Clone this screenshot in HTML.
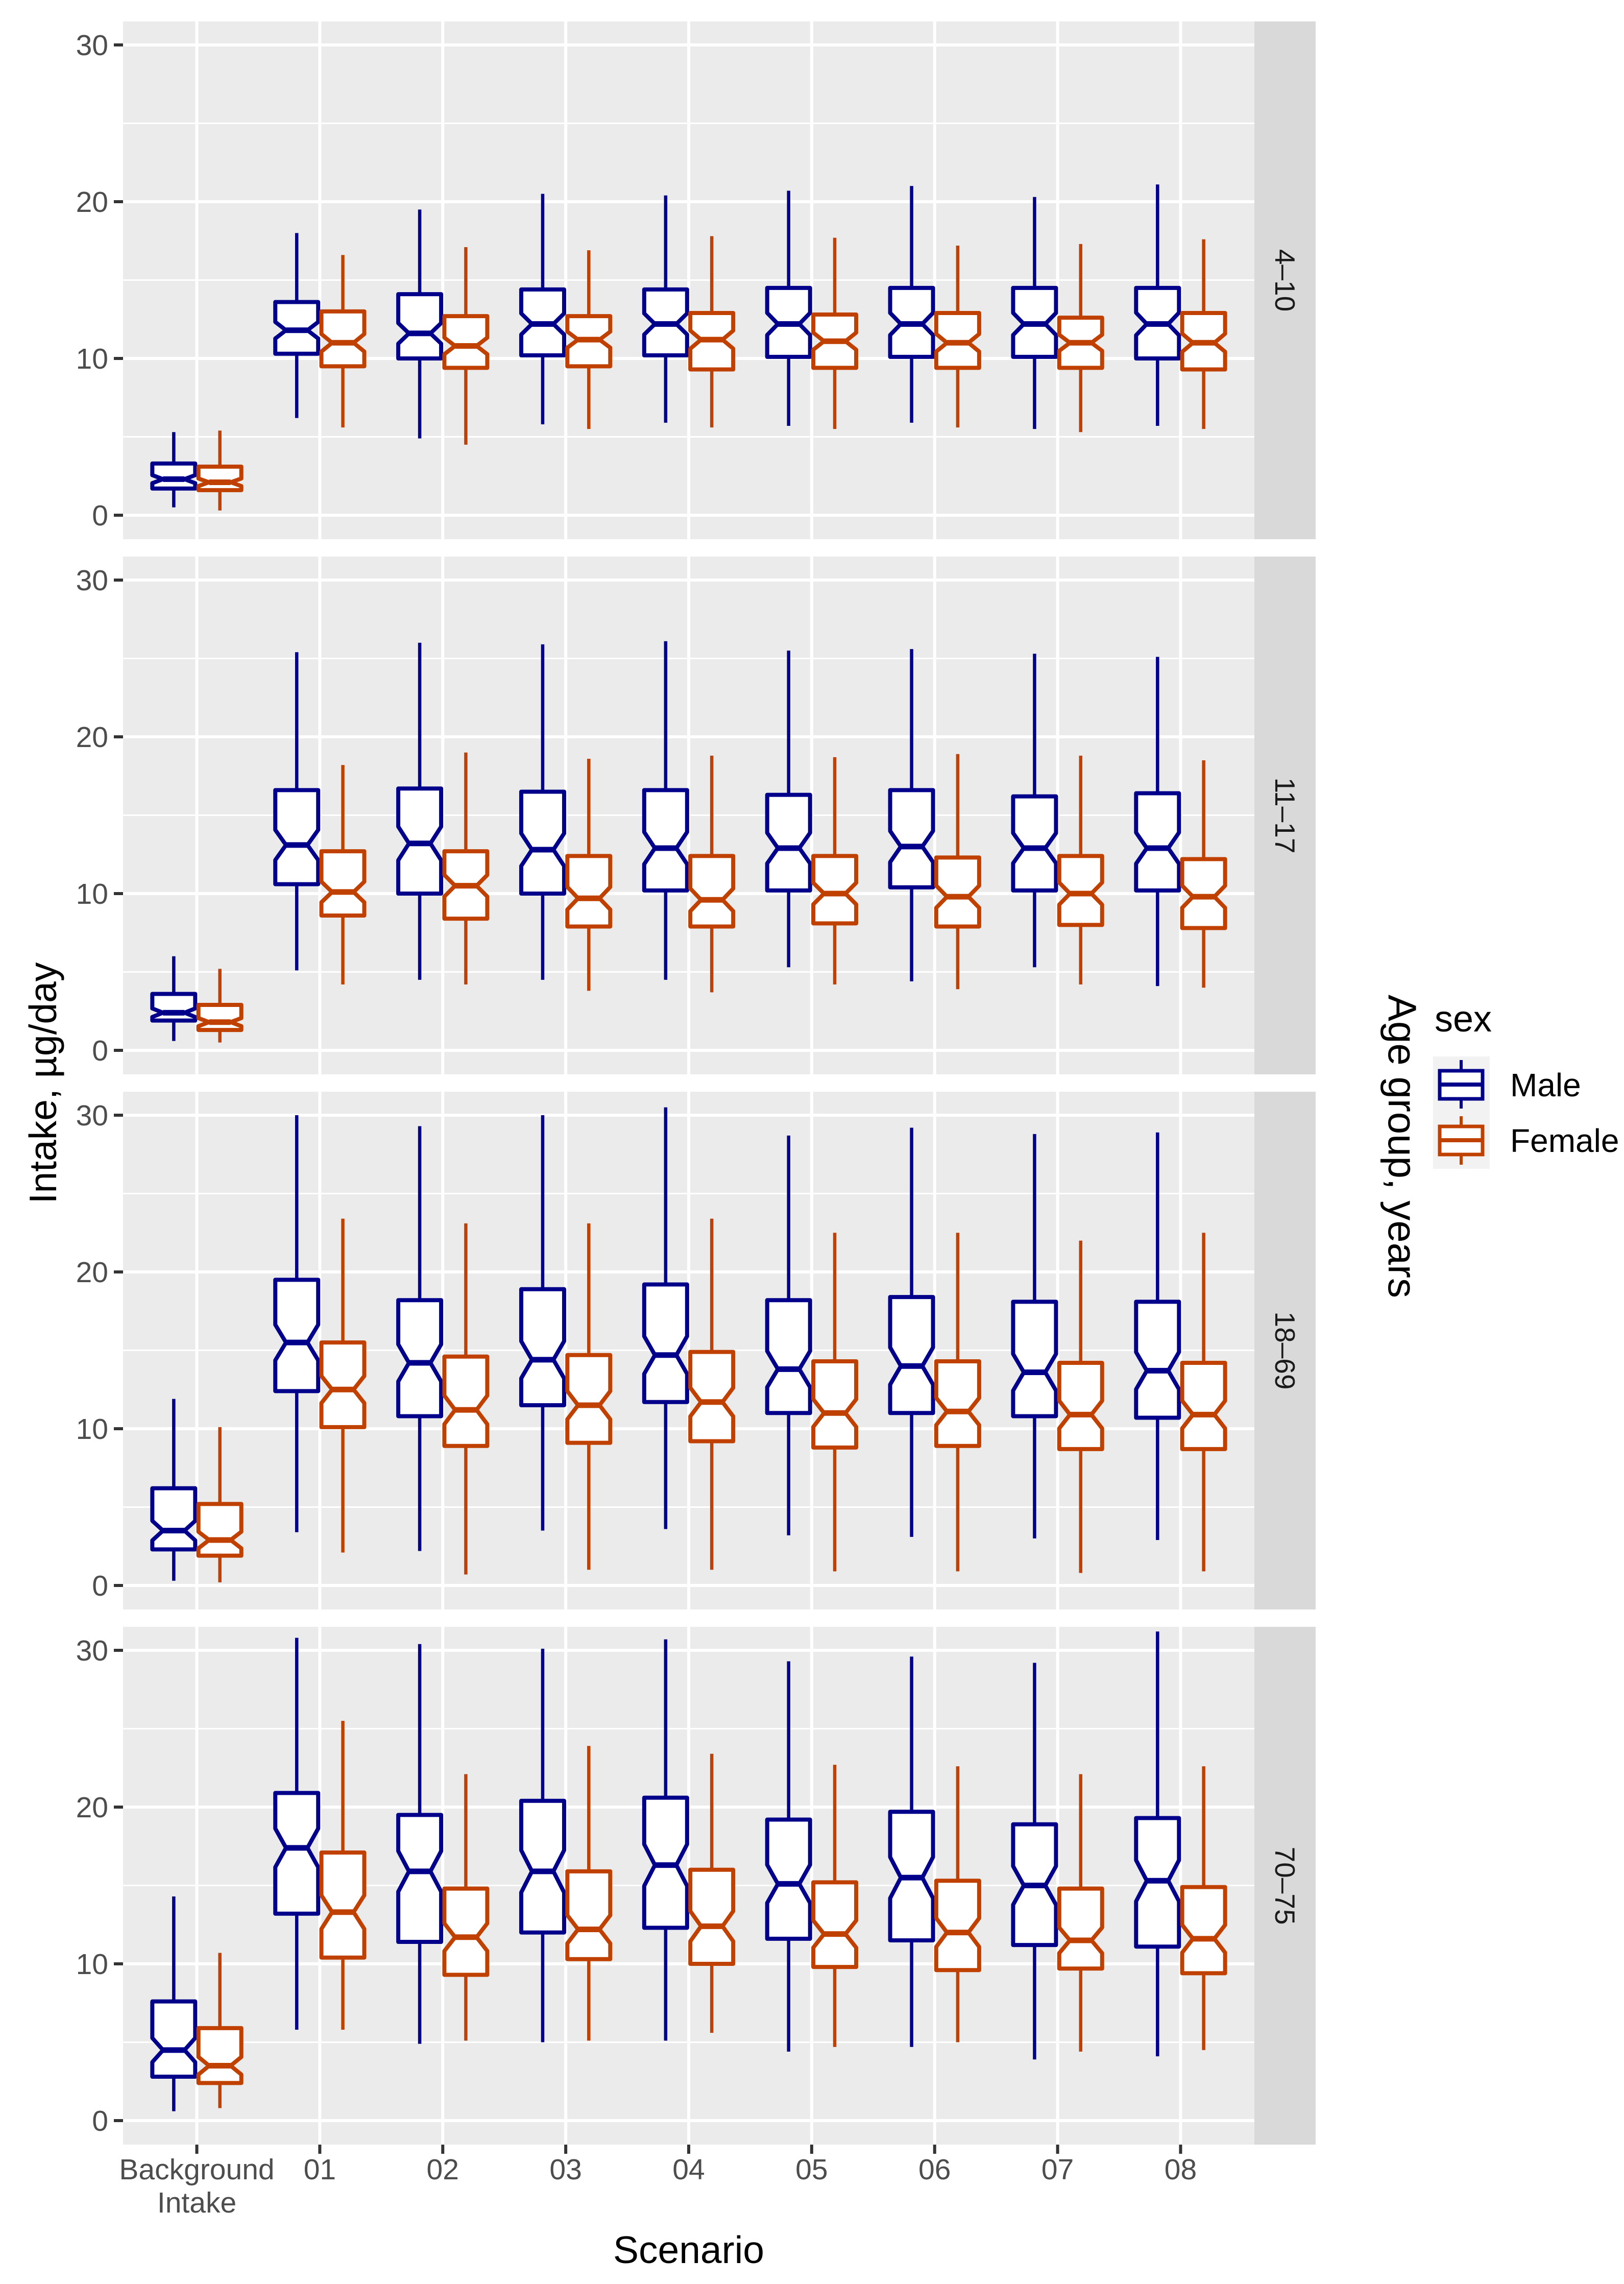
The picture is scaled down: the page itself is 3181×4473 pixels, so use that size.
<!DOCTYPE html>
<html><head><meta charset="utf-8"><style>
html,body{margin:0;padding:0;background:#fff}
svg{display:block;font-family:"Liberation Sans",sans-serif}
</style></head><body>
<svg id="chart" width="3181" height="4473" viewBox="0 0 3181 4473" xmlns="http://www.w3.org/2000/svg"></svg>
<script>
const categories = ["Background\nIntake","01","02","03","04","05","06","07","08"];
const panels = ["4–10","11–17","18–69","70–75"];
const yTicks = [0,10,20,30];
// each row: [lower whisker, q1, median, q3, upper whisker]
const male410 = [[0.5,1.7,2.3,3.3,5.3],[6.2,10.3,11.8,13.6,18.0],[4.9,10.0,11.6,14.1,19.5],[5.8,10.2,12.2,14.4,20.5],[5.9,10.2,12.2,14.4,20.4],[5.7,10.1,12.2,14.5,20.7],[5.9,10.1,12.2,14.5,21.0],[5.5,10.1,12.2,14.5,20.3],[5.7,10.0,12.2,14.5,21.1]];
const female410 = [[0.3,1.6,2.1,3.1,5.4],[5.6,9.5,11.0,13.0,16.6],[4.5,9.4,10.8,12.7,17.1],[5.5,9.5,11.2,12.7,16.9],[5.6,9.3,11.2,12.9,17.8],[5.5,9.4,11.1,12.8,17.7],[5.6,9.4,11.0,12.9,17.2],[5.3,9.4,11.0,12.6,17.3],[5.5,9.3,11.0,12.9,17.6]];
const male1117 = [[0.6,1.9,2.4,3.6,6.0],[5.1,10.6,13.1,16.6,25.4],[4.5,10.0,13.2,16.7,26.0],[4.5,10.0,12.8,16.5,25.9],[4.5,10.2,12.9,16.6,26.1],[5.3,10.2,12.9,16.3,25.5],[4.4,10.4,13.0,16.6,25.6],[5.3,10.2,12.9,16.2,25.3],[4.1,10.2,12.9,16.4,25.1]];
const female1117 = [[0.5,1.3,1.8,2.9,5.2],[4.2,8.6,10.1,12.7,18.2],[4.2,8.4,10.5,12.7,19.0],[3.8,7.9,9.7,12.4,18.6],[3.7,7.9,9.6,12.4,18.8],[4.2,8.1,10.0,12.4,18.7],[3.9,7.9,9.8,12.3,18.9],[4.2,8.0,10.0,12.4,18.8],[4.0,7.8,9.8,12.2,18.5]];
const male1869 = [[0.3,2.3,3.5,6.2,11.9],[3.4,12.4,15.5,19.5,30.0],[2.2,10.8,14.2,18.2,29.3],[3.5,11.5,14.4,18.9,30.0],[3.6,11.7,14.7,19.2,30.5],[3.2,11.0,13.8,18.2,28.7],[3.1,11.0,14.0,18.4,29.2],[3.0,10.8,13.6,18.1,28.8],[2.9,10.7,13.7,18.1,28.9]];
const female1869 = [[0.2,1.9,2.9,5.2,10.1],[2.1,10.1,12.5,15.5,23.4],[0.7,8.9,11.2,14.6,23.1],[1.0,9.1,11.5,14.7,23.1],[1.0,9.2,11.7,14.9,23.4],[0.9,8.8,11.0,14.3,22.5],[0.9,8.9,11.1,14.3,22.5],[0.8,8.7,10.9,14.2,22.0],[0.9,8.7,10.9,14.2,22.5]];
const male7075 = [[0.6,2.8,4.5,7.6,14.3],[5.8,13.2,17.4,20.9,30.8],[4.9,11.4,15.9,19.5,30.4],[5.0,12.0,15.9,20.4,30.1],[5.1,12.3,16.3,20.6,30.7],[4.4,11.6,15.1,19.2,29.3],[4.7,11.5,15.5,19.7,29.6],[3.9,11.2,15.0,18.9,29.2],[4.1,11.1,15.3,19.3,31.2]];
const female7075 = [[0.8,2.4,3.5,5.9,10.7],[5.8,10.4,13.3,17.1,25.5],[5.1,9.3,11.7,14.8,22.1],[5.1,10.3,12.2,15.9,23.9],[5.6,10.0,12.4,16.0,23.4],[4.7,9.8,11.9,15.2,22.7],[5.0,9.6,12.0,15.3,22.6],[4.4,9.7,11.5,14.8,22.1],[4.5,9.4,11.6,14.9,22.6]];
const maleData = [male410, male1117, male1869, male7075];
const femaleData = [female410, female1117, female1869, female7075];

const NS = "http://www.w3.org/2000/svg";
const svg = document.getElementById("chart");
function mk(tag, attrs, parent){ const e=document.createElementNS(NS,tag); for(const k in attrs) e.setAttribute(k,attrs[k]); (parent||svg).appendChild(e); return e; }

const PL=241, PR=2457, SR=2577, PH=1014, TOPS=[42,1090,2138,3186];
const step=(PR-PL)/9.2;
const xPos = i => PL + (i+0.6)*step;
const yPos = (p,v) => TOPS[p] + 46 + (30-v)*30.7;
const MALE="#00008B", FEMALE="#C04000";

panels.forEach((lab,p)=>{
  const g = mk("g",{});
  
  
  const bg = mk("rect",{x:PL,y:TOPS[p],width:PR-PL,height:PH,fill:"#EBEBEB"},g);
  
  
  [5,15,25].forEach(v=>{ const l=mk("line",{x1:PL,x2:PR,y1:yPos(p,v),y2:yPos(p,v),stroke:"#fff","stroke-width":3},g);
      });
  yTicks.forEach(v=>{ const y=yPos(p,v);
    const l=mk("line",{x1:PL,x2:PR,y1:y,y2:y,stroke:"#fff","stroke-width":6},g);
     
    const t=mk("line",{x1:223,x2:PL,y1:y,y2:y,stroke:"#333","stroke-width":6},g);
     
    const tx=mk("text",{x:212,y:y+20,"text-anchor":"end","font-size":57,fill:"#4D4D4D"},g); tx.textContent=v;
     
  });
  categories.forEach((c,i)=>{ const l=mk("line",{x1:xPos(i),x2:xPos(i),y1:TOPS[p],y2:TOPS[p]+PH,stroke:"#fff","stroke-width":6},g);
      });
  const st=mk("rect",{x:PR,y:TOPS[p],width:SR-PR,height:PH,fill:"#D9D9D9"},g);
   
  const cy=TOPS[p]+PH/2;
  const stx=mk("text",{x:0,y:0,transform:`translate(2498,${cy}) rotate(90)`,"text-anchor":"middle","font-size":55,fill:"#1A1A1A"},g);
  stx.textContent=lab;
   

  [[maleData[p],MALE,-1,'male'],[femaleData[p],FEMALE,1,'female']].forEach(([arr,col,side,nm])=>{
    arr.forEach((d,i)=>{
      const cx = xPos(i) + side*0.1875*step;
      const hw = 42, nw = hw*0.5;
      const [lo,q1,md,q3,hi]=d;
      const notch = 0.16*(q3-q1);
      const bx = mk("g",{},g);
      
      
      mk("line",{x1:cx,x2:cx,y1:yPos(p,hi),y2:yPos(p,q3),stroke:col,"stroke-width":6.5},bx);
      mk("line",{x1:cx,x2:cx,y1:yPos(p,q1),y2:yPos(p,lo),stroke:col,"stroke-width":6.5},bx);
      const pts=[[cx-hw,q3],[cx+hw,q3],[cx+hw,md+notch],[cx+nw,md],[cx+hw,md-notch],[cx+hw,q1],[cx-hw,q1],[cx-hw,md-notch],[cx-nw,md],[cx-hw,md+notch]]
        .map(([x,v])=>x+","+yPos(p,v)).join(" ");
      mk("polygon",{points:pts,fill:"#fff",stroke:col,"stroke-width":8,"stroke-linejoin":"round"},bx);
      mk("line",{x1:cx-nw,x2:cx+nw,y1:yPos(p,md),y2:yPos(p,md),stroke:col,"stroke-width":11},bx);
    });
  });
});

categories.forEach((c,i)=>{
  const x=xPos(i);
  const t=mk("line",{x1:x,x2:x,y1:4200,y2:4218,stroke:"#333","stroke-width":6});
   
  const parts=c.split("\n");
  parts.forEach((s,k)=>{
    const tx=mk("text",{x:x,y:4268+k*65,"text-anchor":"middle","font-size":57,fill:"#4D4D4D"});
    tx.textContent=s;
     
  });
});
</script>
<svg style="position:absolute;left:0;top:0" width="3181" height="4473">
  <text x="1349" y="4432" text-anchor="middle" font-size="75" font-family="Liberation Sans, sans-serif" fill="#000">Scenario</text>
  <text transform="translate(110,2121) rotate(-90)" text-anchor="middle" font-size="75" font-family="Liberation Sans, sans-serif" fill="#000">Intake, µg/day</text>
  <text transform="translate(2720,2245) rotate(90)" text-anchor="middle" font-size="78" font-family="Liberation Sans, sans-serif" fill="#000">Age group, years</text>
  <g>
    <text x="2810" y="2020" font-size="72" font-family="Liberation Sans, sans-serif" fill="#000">sex</text>
    <rect x="2807" y="2069" width="111" height="220" fill="#F2F2F2"/>
    <g>
      <line x1="2862" x2="2862" y1="2076" y2="2171" stroke="#00008B" stroke-width="6"/>
      <rect x="2820" y="2097" width="84" height="55" fill="#fff" stroke="#00008B" stroke-width="7"/>
      <line x1="2820" x2="2904" y1="2124" y2="2124" stroke="#00008B" stroke-width="8"/>
    </g>
    <text x="2958" y="2147" font-size="64" font-family="Liberation Sans, sans-serif" fill="#000">Male</text>
    <g>
      <line x1="2862" x2="2862" y1="2186" y2="2281" stroke="#C04000" stroke-width="6"/>
      <rect x="2820" y="2206" width="84" height="55" fill="#fff" stroke="#C04000" stroke-width="7"/>
      <line x1="2820" x2="2904" y1="2233" y2="2233" stroke="#C04000" stroke-width="8"/>
    </g>
    <text x="2958" y="2256" font-size="64" font-family="Liberation Sans, sans-serif" fill="#000">Female</text>
  </g>
</svg>
</body></html>
